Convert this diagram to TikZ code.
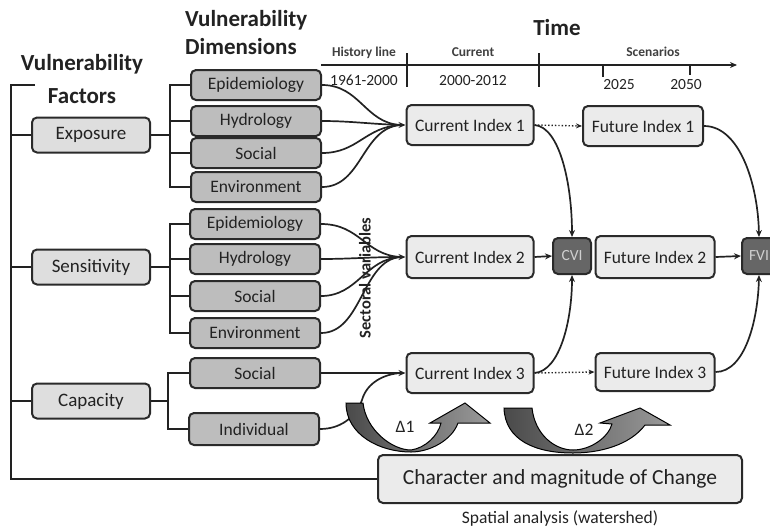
\documentclass[tikz,border=0pt]{standalone}
\usepackage{fontspec}
\setmainfont{Carlito}
\usetikzlibrary{arrows.meta,calc}
\definecolor{edge}{HTML}{2A2A2A}
\definecolor{txt}{HTML}{222222}
\definecolor{facfill}{HTML}{DEDEDE}
\definecolor{dimfill}{HTML}{BDBDBD}
\definecolor{idxfill}{HTML}{EBEBEB}
\definecolor{vifill}{HTML}{666666}
\definecolor{vitext}{HTML}{CFCFCF}
\definecolor{linecol}{HTML}{222222}
\definecolor{bigdark}{HTML}{4A4A4A}
\definecolor{biglight}{HTML}{9A9A9A}
\definecolor{smalltxt}{HTML}{404040}
\tikzset{
  bx/.style={draw=edge, line width=2pt, rounded corners=5pt, inner sep=0pt, text=txt,
    font=\fontsize{17.5pt}{21pt}\selectfont},
  factor/.style={bx, fill=facfill, minimum width=118pt, minimum height=35pt,
    font=\fontsize{19pt}{23pt}\selectfont},
  dimbox/.style={bx, fill=dimfill, minimum width=130pt, minimum height=30pt},
  idxbox/.style={bx, fill=idxfill, minimum width=127pt, minimum height=40pt},
  fidxbox/.style={bx, fill=idxfill, minimum width=119pt, minimum height=40pt},
  vibox/.style={bx, fill=vifill, text=vitext, minimum width=38pt, minimum height=36pt,
    font=\fontsize{15.5pt}{18pt}\selectfont},
  bigbox/.style={bx, fill=idxfill, minimum width=364pt, minimum height=48pt,
    font=\fontsize{21.5pt}{25pt}\selectfont},
  conn/.style={line width=1.7pt, draw=linecol},
  arr/.style={conn, -{Stealth[length=7pt,width=6pt]}},
  dotarr/.style={line width=1.4pt, draw=linecol, dotted, -{Stealth[length=6pt,width=5pt]}},
  title/.style={font=\fontsize{23pt}{27pt}\selectfont\bfseries, text=txt, inner sep=0pt, anchor=base},
  smallbold/.style={font=\fontsize{13.5pt}{16pt}\selectfont\bfseries, text=smalltxt, inner sep=0pt, anchor=base},
  yearlbl/.style={font=\fontsize{15.5pt}{18pt}\selectfont, text=txt, inner sep=0pt, anchor=base},
  bigarrow/.style={left color=bigdark, right color=biglight, draw=black, line width=1pt},
}
\begin{document}
\begin{tikzpicture}[x=1pt,y=-1pt]
\useasboundingbox (0,0) rectangle (770,528);

% titles
\node[title] (ft1) at (82,70) {Vulnerability};
\node[title] (ft2) at (82,103) {Factors};
\node[title, anchor=base west] (dt1) at (185,26) {Vulnerability};
\node[title, anchor=base west] (dt2) at (185,54) {Dimensions};
\node[title] (tt) at (557,35) {Time};

% time axis
\coordinate (axs) at (321,65);
\coordinate (axe) at (737,65);
\draw[conn, -{Stealth[length=7pt,width=6pt]}] (axs) -- (axe);
\coordinate (tk1a) at (407,53); \coordinate (tk1b) at (407,87);
\coordinate (tk2a) at (539,53); \coordinate (tk2b) at (539,87);
\coordinate (tk3a) at (603,65); \coordinate (tk3b) at (603,77);
\coordinate (tk4a) at (690,65); \coordinate (tk4b) at (690,75);
\draw[conn] (tk1a) -- (tk1b);
\draw[conn] (tk2a) -- (tk2b);
\draw[conn] (tk3a) -- (tk3b);
\draw[conn] (tk4a) -- (tk4b);
\node[smallbold] (hl) at (364,56) {History line};
\node[smallbold] (cu) at (473,56) {Current};
\node[smallbold] (sc) at (653,56) {Scenarios};
\node[yearlbl] (y1) at (364,85) {1961-2000};
\node[yearlbl] (y2) at (473,85) {2000-2012};
\node[yearlbl] (y3) at (619,89) {2025};
\node[yearlbl] (y4) at (686,89) {2050};

% factor boxes
\node[factor] (exp) at (91,135) {Exposure};
\node[factor] (sen) at (91,267) {Sensitivity};
\node[factor] (cap) at (91,401) {Capacity};

% dimension boxes
\node[dimbox] (epi1) at (256,85) {Epidemiology};
\node[dimbox] (hyd1) at (256,121) {Hydrology};
\node[dimbox] (soc1) at (256,153) {Social};
\node[dimbox] (env1) at (256,187) {Environment};
\node[dimbox] (epi2) at (255,224) {Epidemiology};
\node[dimbox] (hyd2) at (255,259) {Hydrology};
\node[dimbox] (soc2) at (255,296) {Social};
\node[dimbox] (env2) at (255,333) {Environment};
\node[dimbox] (soc3) at (255,373) {Social};
\node[dimbox, minimum height=32pt] (ind3) at (254,429) {Individual};

% index boxes
\node[idxbox] (ci1) at (470,125) {Current Index 1};
\node[idxbox, minimum height=42pt] (ci2) at (470,257) {Current Index 2};
\node[idxbox] (ci3) at (470,373) {Current Index 3};
\node[fidxbox, minimum width=120pt] (fi1) at (643,126) {Future Index 1};
\node[fidxbox, minimum height=42pt] (fi2) at (655,257) {Future Index 2};
\node[fidxbox, minimum height=38pt] (fi3) at (655,372) {Future Index 3};
\node[vibox] (cvi) at (572,256) {CVI};
\node[vibox, minimum width=34pt] (fvi) at (759,256) {FVI};

% change box
\node[bigbox] (chg) at (560,479) {Character and magnitude of Change};
\node[font=\fontsize{17.5pt}{20pt}\selectfont, text=txt, inner sep=0pt] (spa) at (560,518) {Spatial analysis (watershed)};

% left bracket
\coordinate (bt0) at (35,85);
\coordinate (bt1) at (11,85);
\draw[conn] (bt0) -- (bt1) |- (chg.west);
\draw[conn] (bt1 |- exp.west) -- (exp.west);
\draw[conn] (bt1 |- sen.west) -- (sen.west);
\draw[conn] (bt1 |- cap.west) -- (cap.west);

% dimension brackets
\coordinate (bx1) at (170,0);
\draw[conn] (exp.east) -- (exp.east -| bx1);
\draw[conn] (epi1.west) -- (epi1.west -| bx1) |- (env1.west);
\draw[conn] (hyd1.west) -- (hyd1.west -| bx1);
\draw[conn] (soc1.west) -- (soc1.west -| bx1);
\draw[conn] (sen.east) -- (sen.east -| bx1);
\draw[conn] (epi2.west) -- (epi2.west -| bx1) |- (env2.west);
\draw[conn] (hyd2.west) -- (hyd2.west -| bx1);
\draw[conn] (soc2.west) -- (soc2.west -| bx1);
\coordinate (bx3) at (168,0);
\draw[conn] (cap.east) -- (cap.east -| bx3);
\draw[conn] (soc3.west) -- (soc3.west -| bx3) |- (ind3.west);

% converging curves group 1
\coordinate (c1) at ($(ci1.west)+(-5,0)$);
\draw[conn] (epi1.east) .. controls (360,85) and (365,123) .. (c1);
\draw[conn] (hyd1.east) .. controls (350,121) and (370,124) .. (c1);
\draw[conn] (soc1.east) .. controls (358,153) and (365,127) .. (c1);
\draw[conn] (env1.east) .. controls (362,187) and (362,128) .. (c1);
\draw[arr] (c1) -- (ci1.west);

% converging curves group 2
\coordinate (c2) at ($(ci2.west)+(-5,0)$);
\draw[conn] (epi2.east) .. controls (360,224) and (365,255) .. (c2);
\draw[conn] (hyd2.east) .. controls (350,259) and (370,257) .. (c2);
\draw[conn] (soc2.east) .. controls (358,296) and (365,259) .. (c2);
\draw[conn] (env2.east) .. controls (362,333) and (362,260) .. (c2);
\draw[arr] (c2) -- (ci2.west);

% capacity connectors
\coordinate (c3) at ($(ci3.west)+(-5,0)$);
\draw[arr] (soc3.east) -- (ci3.west);
\draw[conn] (ind3.east) .. controls (345,429) and (358,412) .. (362,400) .. controls (367,382) and (385,374) .. (c3);

% index connectors
\draw[dotarr] (ci1.east) -- (fi1.west);
\draw[dotarr] (ci3.east) -- (fi3.west);
\draw[arr] (ci2.east) -- (cvi.west);
\draw[arr] (fi2.east) -- (fvi.west);
\draw[arr] (ci1.east) .. controls (560,127) and (572,185) .. (cvi.north);
\draw[arr] (ci3.east) .. controls (560,371) and (572,320) .. (cvi.south);
\draw[arr] (fi1.east) .. controls (740,126) and (758,185) .. (fvi.north);
\draw[arr] (fi3.east) .. controls (745,372) and (758,320) .. (fvi.south);

% big curved arrows
\shadedraw[bigarrow] (346,403) -- (363,403) .. controls (366,430) and (392,450) .. (411,450)
  .. controls (425,448) and (438,436) .. (441,423) -- (430,423) -- (465,403) -- (490,423) -- (458,423)
  .. controls (452,440) and (430,452) .. (411,452) .. controls (380,452) and (346,435) .. cycle;
\shadedraw[bigarrow] (504,408) -- (532,408) .. controls (535,435) and (555,450) .. (573,450)
  .. controls (590,450) and (608,438) .. (612,424) -- (600,423) -- (640,408) -- (670,425) -- (645,425)
  .. controls (630,445) and (600,453) .. (573,453) .. controls (535,453) and (505,440) .. cycle;
\node[font=\fontsize{17.5pt}{20pt}\selectfont, text=txt, inner sep=0pt] (d1) at (405,427) {Δ1};
\node[font=\fontsize{17.5pt}{20pt}\selectfont, text=txt, inner sep=0pt] (d2) at (584,430) {Δ2};

% sectoral variables
\node[rotate=90, font=\fontsize{16.5pt}{19pt}\selectfont\bfseries, text=txt, inner sep=0pt] (sv) at (365,278) {Sectoral variables};
\end{tikzpicture}
\end{document}
